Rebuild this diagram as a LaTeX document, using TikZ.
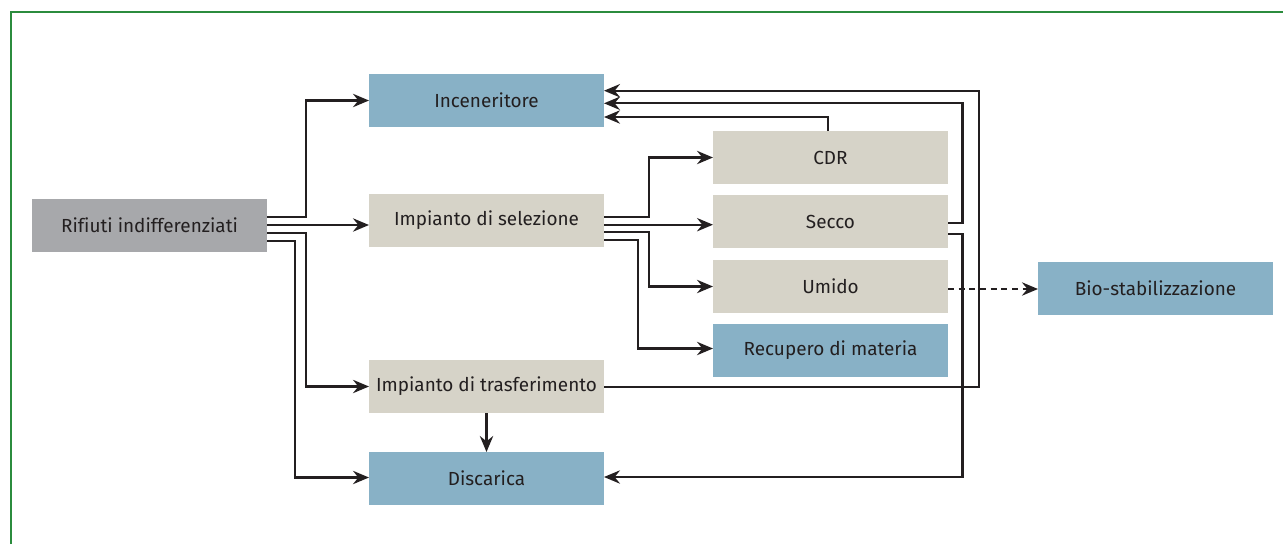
\documentclass[tikz,border=0pt]{standalone}
\usepackage{fontspec}
\setmainfont[Ligatures=NoCommon]{Fira Sans}
\usetikzlibrary{arrows.meta,calc}
\definecolor{boxblue}{HTML}{88B1C6}
\definecolor{boxbeige}{HTML}{D6D3C8}
\definecolor{boxgray}{HTML}{A7A8AB}
\definecolor{framegreen}{HTML}{2B8C3D}
\definecolor{ink}{HTML}{231F20}
\tikzset{
  box/.style={minimum width=176.25pt,minimum height=39.75pt,inner sep=0pt,outer sep=0pt,
    text=ink,font=\fontsize{14.2}{16}\selectfont},
  bluebox/.style={box,fill=boxblue},
  beigebox/.style={box,fill=boxbeige},
  graybox/.style={box,fill=boxgray},
  conn/.style={draw=ink,line width=1.6pt},
  arr/.style={conn,-{Stealth[length=12pt,width=10pt,inset=4pt]}},
  dasharr/.style={arr,dash pattern=on 4.5pt off 3.5pt}
}
\newcommand{\lbl}[1]{\raisebox{-1.2pt}{#1}}
\begin{document}
\begin{tikzpicture}[x=0.75pt,y=-0.75pt]
\useasboundingbox (0,0) rectangle (1283,544);
\draw[framegreen,line width=1.6pt] (11,544) -- (11,12) -- (1283,12);

\node[graybox]  (rif) at (149.5,225.5) {\lbl{Rifiuti indifferenziati}};
\node[bluebox]  (inc) at (486.5,100.5) {\lbl{Inceneritore}};
\node[beigebox] (sel) at (486.5,220.5) {\lbl{Impianto di selezione}};
\node[beigebox] (tra) at (486.5,386.5) {\lbl{Impianto di trasferimento}};
\node[bluebox]  (dis) at (486.5,478.5) {\lbl{Discarica}};
\node[beigebox] (cdr) at (830.5,157.5) {\lbl{CDR}};
\node[beigebox] (sec) at (830.5,221.5) {\lbl{Secco}};
\node[beigebox] (umi) at (830.5,286.5) {\lbl{Umido}};
\node[bluebox]  (rec) at (830.5,350.5) {\lbl{Recupero di materia}};
\node[bluebox]  (bio) at (1155.5,288.5) {\lbl{Bio-stabilizzazione}};

% from Rifiuti indifferenziati
\draw[arr] (rif.east|-0,217) -- (306,217) |- (inc.west);
\draw[arr] (rif.east|-0,225) -- (sel.west|-0,225);
\draw[arr] (rif.east|-0,233) -- (306,233) |- (tra.west);
\draw[arr] (rif.east|-0,241) -- (295,241) |- (dis.west|-0,477.5);

% from Impianto di selezione
\draw[arr] (sel.east|-0,216.7) -- (649,216.7) |- (cdr.west);
\draw[arr] (sel.east|-0,224.7) -- (sec.west|-0,224.7);
\draw[arr] (sel.east|-0,232.3) -- (649,232.3) |- (umi.west);
\draw[arr] (sel.east|-0,240) -- (638,240) |- (rec.west|-0,348.5);

% returns to Inceneritore
\draw[arr] (cdr.north-|828,0) |- (inc.east|-0,117);
\draw[arr] (sec.east|-0,222.7) -- (962.5,222.7) |- (inc.east|-0,103.3);
\draw[arr] (tra.east|-0,387) -- (979.3,387) |- (inc.east|-0,90.7);

% to Discarica
\draw[arr] (sec.east|-0,234) -- (962.5,234) |- (dis.east|-0,477);
\draw[arr] (tra.south) -- (dis.north);

% Umido to Bio-stabilizzazione
\draw[dasharr] (umi.east|-0,289) -- (bio.west|-0,289);
\end{tikzpicture}
\end{document}
